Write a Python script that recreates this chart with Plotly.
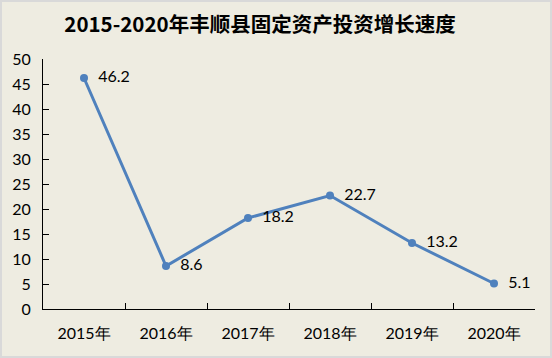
import plotly.graph_objects as go

years = ["2015年", "2016年", "2017年", "2018年", "2019年", "2020年"]
growth = [46.2, 8.6, 18.2, 22.7, 13.2, 5.1]
labels = ["46.2", "8.6", "18.2", "22.7", "13.2", "5.1"]
y_ticks = [0, 5, 10, 15, 20, 25, 30, 35, 40, 45, 50]

fig = go.Figure()
fig.add_trace(go.Scatter(
    x=years, y=growth, mode="lines+markers+text",
    text=["  " + t for t in labels], textposition="middle right",
    textfont=dict(family="Lato, Open Sans, sans-serif", size=16, color="#000000"),
    line=dict(color="#4F81BD", width=3),
    marker=dict(color="#4F81BD", size=8),
    cliponaxis=False, showlegend=False, hoverinfo="skip",
))

font_main = "Lato, Open Sans, sans-serif"
fig.update_layout(
    width=552, height=358,
    paper_bgcolor="#EEECE1", plot_bgcolor="#EEECE1",
    margin=dict(l=43, r=17, t=59, b=49, autoexpand=False),
    title=dict(text="<b>2015-2020年丰顺县固定资产投资增长速度</b>",
               x=260/552, xanchor="center", y=0.93, yanchor="middle",
               font=dict(family="Noto Sans CJK SC", size=20.5, color="#000000")),
    xaxis=dict(type="category", showline=True, linecolor="#000000", linewidth=1,
               ticks="inside", tickson="boundaries", ticklen=6, tickcolor="#000000",
               showgrid=False, ticklabelstandoff=10, automargin=False,
               tickfont=dict(family=font_main, size=16, color="#000000"),
               range=[-0.5, 5.5]),
    yaxis=dict(range=[0, 50], tickvals=y_ticks, showline=True, linecolor="#000000",
               linewidth=1, ticks="inside", ticklen=6, tickcolor="#000000",
               showgrid=False, zeroline=False, ticklabelstandoff=8, automargin=False,
               tickfont=dict(family=font_main, size=16, color="#000000")),
    shapes=[dict(type="rect", xref="paper", yref="paper",
                 x0=-42/492, x1=1+16/492, y0=-48/250, y1=1+58/250,
                 line=dict(color="#D9D9D9", width=2), fillcolor="rgba(0,0,0,0)",
                 layer="above")],
)

fig.write_html("out.html", config={"displayModeBar": False},
               post_script="document.body.style.margin='0';")
